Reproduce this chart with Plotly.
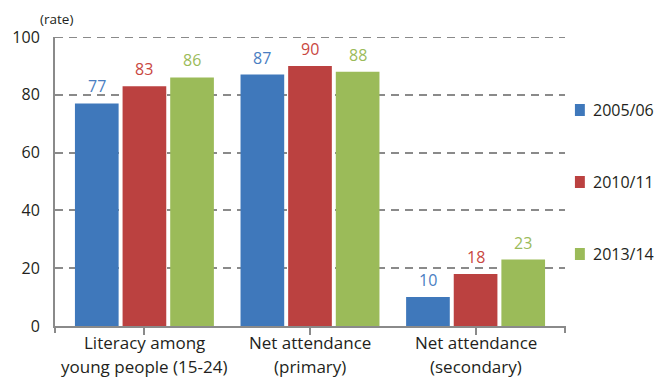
import plotly.graph_objects as go

# Indicator groups (two-line labels) and survey rounds
categories = ["Literacy among<br>young people (15-24)",
              "Net attendance<br>(primary)",
              "Net attendance<br>(secondary)"]
series_names = ["2005/06", "2010/11", "2013/14"]
values_2005 = [77, 87, 10]
values_2010 = [83, 90, 18]
values_2013 = [86, 88, 23]
y_ticks = [0, 20, 40, 60, 80, 100]

colors = ["#3f78bb", "#bb4140", "#9bbb59"]
text_colors = ["#4a7ec2", "#c9473f", "#9bbb59"]
axis_color = "#8a8a8a"
font_family = "Open Sans"

L, R, T, B = 51, 91, 37, 53
W, H = 656, 379
pw, ph = W - L - R, H - T - B
x_lo, x_hi = -0.54, len(categories) - 1 + 0.54
bargap, bargroupgap = 0.137, 0.083
n_series = len(series_names)
slot = (1 - bargap) / n_series  # width of one bar slot in category units

x_idx = list(range(len(categories)))
fig = go.Figure()
all_values = [values_2005, values_2010, values_2013]
for k, (name, vals, c, tc) in enumerate(zip(series_names, all_values, colors, text_colors)):
    fig.add_trace(go.Bar(
        x=x_idx, y=vals, name=name, marker_color=c, marker_line_width=0,
        showlegend=False,
    ))
    # value labels above each bar
    for i, v in enumerate(vals):
        fig.add_annotation(x=i + (k - (n_series - 1) / 2) * slot, y=v, xref="x", yref="y",
                           text=str(v), showarrow=False, yanchor="bottom", yshift=4,
                           font=dict(size=16, color=tc, family=font_family))

def px_x(p):
    return (p - L) / pw

def px_y(p):
    return (H - B - p) / ph

fig.update_layout(
    width=W, height=H,
    margin=dict(l=L, r=R, t=T, b=B),
    paper_bgcolor="white", plot_bgcolor="white",
    barmode="group", bargap=bargap, bargroupgap=bargroupgap,
    font=dict(family=font_family, color="#231f20"),
    showlegend=False,
)
fig.update_xaxes(
    range=[x_lo, x_hi], tickvals=x_idx, showticklabels=False,
    showline=True, linecolor=axis_color, linewidth=2,
    ticks="outside", ticklen=7, tickwidth=2, tickcolor=axis_color,
    showgrid=False, zeroline=False,
)
fig.update_yaxes(
    range=[0, 100], tickvals=y_ticks,
    tickfont=dict(size=16, color="#231f20"),
    ticks="outside", ticklen=10, tickcolor="rgba(0,0,0,0)",
    showline=True, linecolor=axis_color, linewidth=2,
    showgrid=True, gridcolor=axis_color, gridwidth=2, griddash="8px,6px",
    zeroline=False,
)

# top gridline at the edge of the plot area
fig.add_shape(type="line", xref="paper", yref="y", x0=0, x1=1,
              y0=y_ticks[-1], y1=y_ticks[-1],
              line=dict(color=axis_color, width=2, dash="8px,6px"))

# end ticks under the axis corners
for xp in (L, W - R):
    fig.add_shape(type="line", xref="paper", yref="paper",
                  x0=px_x(xp), x1=px_x(xp), y0=0, y1=px_y(H - B + 7),
                  line=dict(color=axis_color, width=2))

# category labels, one annotation per line
for i, cat in enumerate(categories):
    lines = cat.split("<br>")
    fig.add_annotation(x=i, xref="x", yref="paper", y=px_y(342),
                       text=lines[0], showarrow=False, yanchor="middle",
                       font=dict(size=17, color="#231f20"))
    fig.add_annotation(x=i, xref="x", yref="paper", y=px_y(H), borderpad=0,
                       text=lines[1], showarrow=False, yanchor="bottom",
                       font=dict(size=17, color="#231f20"))

fig.add_annotation(xref="paper", yref="paper", x=px_x(53), y=px_y(19),
                   text="(rate)", showarrow=False, xanchor="center", yanchor="middle",
                   font=dict(size=13.5, color="#231f20"))

# legend: colour squares with labels
for k, (name, c) in enumerate(zip(series_names, colors)):
    cy = 110 + 72 * k
    fig.add_shape(type="rect", xref="paper", yref="paper",
                  x0=px_x(575), x1=px_x(585), y0=px_y(cy + 6), y1=px_y(cy - 6),
                  fillcolor=c, line_width=0)
    fig.add_annotation(xref="paper", yref="paper", x=px_x(591), y=px_y(cy),
                       text=name, showarrow=False, xanchor="left", yanchor="middle",
                       font=dict(size=16, color="#231f20"))

fig.write_html("out.html")
